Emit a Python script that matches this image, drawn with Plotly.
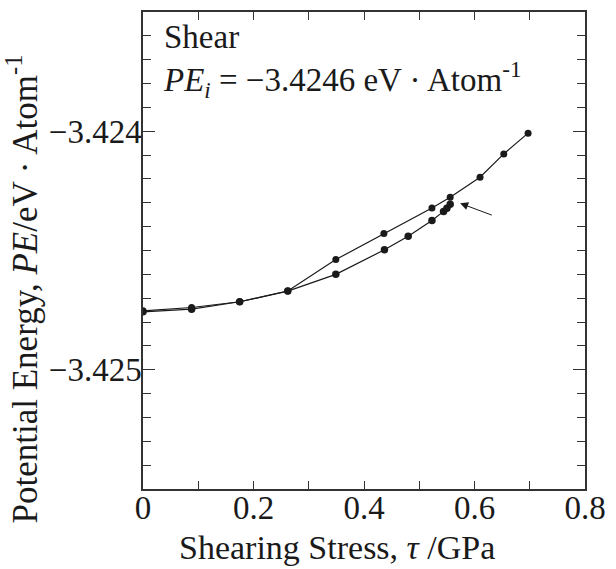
import plotly.graph_objects as go

# Data
tau_upper = [0.0, 0.088, 0.175, 0.262, 0.349, 0.436, 0.523, 0.556, 0.610, 0.653, 0.697]
pe_upper = [-3.424753, -3.424739, -3.424715, -3.424670, -3.424538, -3.424429,
            -3.424322, -3.424277, -3.424193, -3.424095, -3.424008]

tau_lower = [0.0, 0.088, 0.175, 0.262, 0.349, 0.437, 0.480, 0.523, 0.544, 0.550, 0.556]
pe_lower = [-3.424757, -3.424746, -3.424715, -3.424670, -3.424600, -3.424497,
            -3.424440, -3.424374, -3.424336, -3.424323, -3.424306]

x_tickvals = [0.0, 0.2, 0.4, 0.6, 0.8]
x_ticktext = ["0", "0.2", "0.4", "0.6", "0.8"]
y_tickvals = [-3.424, -3.425]
y_ticktext = ["\u22123.424", "\u22123.425"]

FONT = "Liberation Serif"
FS = 33
FT = 34
TXT = "#1a1a1a"

fig = go.Figure()
fig.add_trace(go.Scatter(x=tau_lower, y=pe_lower, mode="lines+markers",
                         line=dict(color=TXT, width=1.2),
                         marker=dict(color=TXT, size=7.5), showlegend=False))
fig.add_trace(go.Scatter(x=tau_upper, y=pe_upper, mode="lines+markers",
                         line=dict(color=TXT, width=1.2),
                         marker=dict(color=TXT, size=7), showlegend=False))

fig.add_annotation(x=0.04, y=0.99, xref="paper", yref="paper", xanchor="left", yanchor="top",
                   text="Shear<br><i>PE<sub>i</sub></i> = \u22123.4246 eV \u00b7 Atom<sup>-1</sup>",
                   showarrow=False, align="left", font=dict(family=FONT, size=FS, color=TXT))

fig.add_annotation(x=0.574, y=-3.424302, ax=0.634, ay=-3.424354, xref="x", yref="y",
                   axref="x", ayref="y", text="", showarrow=True, arrowhead=2,
                   arrowsize=1.6, arrowwidth=1, arrowcolor=TXT, standoff=0)

# axis titles as annotations (reference places them off-centre)
fig.add_annotation(x=0.44, y=-0.122, xref="paper", yref="paper", xanchor="center", yanchor="middle",
                   text="Shearing Stress, <i>\u03c4</i> /GPa", showarrow=False,
                   font=dict(family=FONT, size=FT, color=TXT))
fig.add_annotation(x=-0.272, y=0.42, xref="paper", yref="paper", xanchor="center", yanchor="middle",
                   text="Potential Energy, <i>PE</i>/eV \u00b7 Atom<sup>-1</sup>", showarrow=False,
                   textangle=-90, font=dict(family=FONT, size=35, color=TXT))

fig.update_xaxes(range=[0, 0.8], tickvals=x_tickvals, ticktext=x_ticktext,
                 ticks="inside", ticklen=8, tickwidth=1, tickcolor="#333",
                 minor=dict(dtick=0.1, tick0=0, ticks="inside", ticklen=8,
                            tickwidth=1, tickcolor="#333"),
                 showline=True, linecolor="#333", linewidth=1.5, mirror="ticks",
                 showgrid=False, zeroline=False, ticklabelstandoff=-11,
                 tickfont=dict(family=FONT, size=FS, color=TXT))
fig.update_yaxes(range=[-3.4255, -3.4235], tickvals=y_tickvals, ticktext=y_ticktext,
                 ticks="inside", ticklen=12, tickwidth=1, tickcolor="#333",
                 minor=dict(dtick=0.0001, tick0=-3.424, ticks="inside", ticklen=8,
                            tickwidth=1, tickcolor="#333"),
                 showline=True, linecolor="#333", linewidth=1.5, mirror="ticks",
                 showgrid=False, zeroline=False, ticklabelstandoff=-7,
                 tickfont=dict(family=FONT, size=FS, color=TXT))

fig.update_layout(width=616, height=569, margin=dict(l=143, r=26, t=10, b=80),
                  plot_bgcolor="white", paper_bgcolor="white")

fig.write_html("out.html")
